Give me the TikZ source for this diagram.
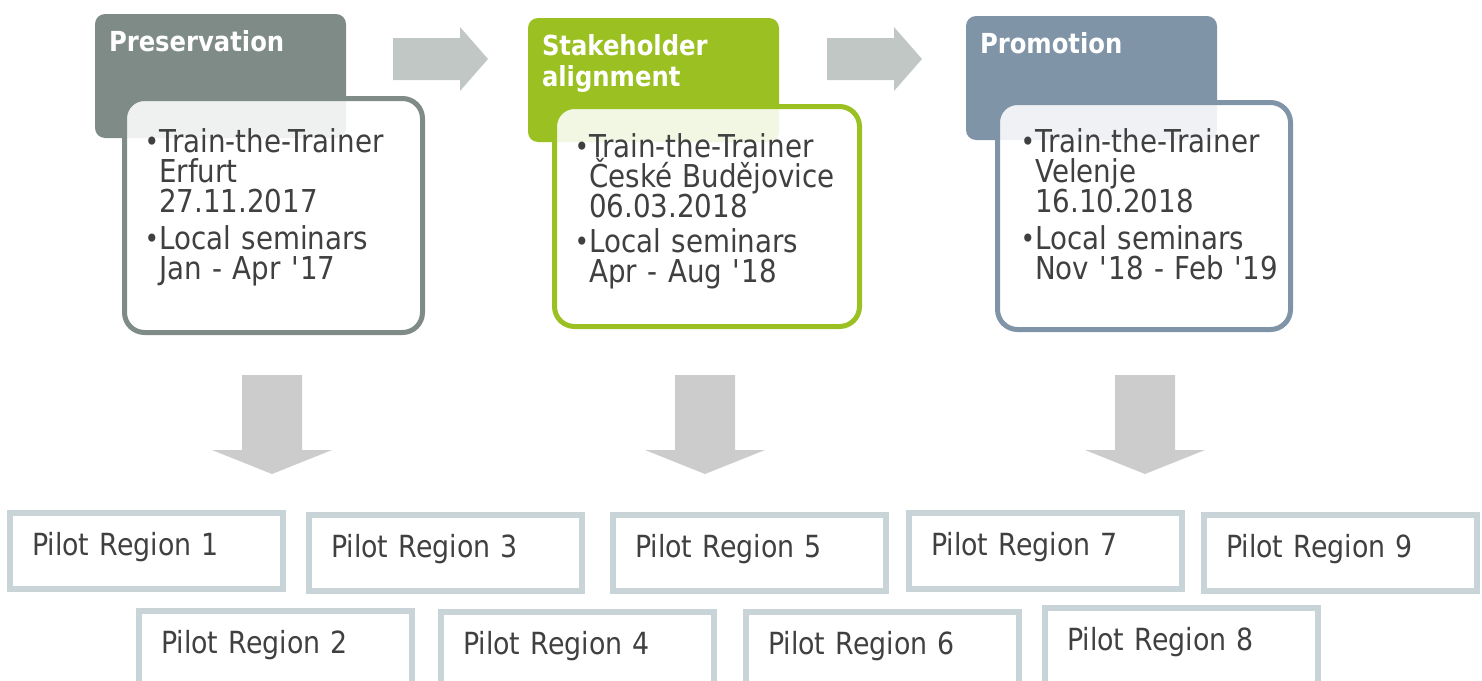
\documentclass[tikz,border=0pt]{standalone}
\usepackage{fontspec}
\setmainfont{DejaVu Sans}[FakeStretch=0.88]
\usepackage{xcolor}
\usepackage{tikz}
\definecolor{presgrey}{RGB}{127,139,135}
\definecolor{stakegreen}{RGB}{155,192,34}
\definecolor{promoblue}{RGB}{128,148,168}
\definecolor{arrowgrey}{RGB}{193,199,197}
\definecolor{downgrey}{RGB}{204,204,204}
\definecolor{pilotline}{RGB}{201,212,217}
\definecolor{textgrey}{RGB}{64,64,64}
\newcommand{\headfont}{\fontsize{27.6}{31}\selectfont\bfseries}
\newcommand{\listfont}{\fontsize{31.5}{30}\selectfont\lineskiplimit=-30pt}
\newcommand{\pilotfont}{\fontsize{30.5}{36}\selectfont}
\newcommand{\blt}{\leavevmode\llap{\fontsize{28}{28}\selectfont\raisebox{0.5pt}{•}}}
\tikzset{
	header/.style={
			fill=#1, rounded corners=10pt, anchor=north west, outer sep=0pt,
			inner xsep=14pt, inner ysep=0pt, text width=223pt, align=left,
			text height=37pt, text depth=87pt, text=white, font=\headfont
		},
	card/.style={
			draw=#1, line width=5pt, rounded corners=20pt, fill=white,
			fill opacity=0.88, anchor=north west, inner sep=0pt
		},
	list/.style={
			anchor=base west, inner sep=0pt, text width=280pt, align=left,
			text=textgrey, font=\listfont
		},
	pilot/.style={
			draw=pilotline, line width=6pt, anchor=north west,
			inner xsep=22pt, inner ysep=0pt, text width=229pt, align=left,
			text height=42pt, text depth=34pt, text=textgrey, font=\pilotfont
		},
	rarrow/.style={fill=arrowgrey},
	darrow/.style={fill=downgrey}
}

\begin{document}
\begin{tikzpicture}[x=1pt,y=-1pt]
	\useasboundingbox (0,0) rectangle (1482,680);
	\clip (0,0) rectangle (1482,680);
	% phase headers
	\node[header=presgrey] (pres-head) at (95,14) {Preservation};
	\node[header=stakegreen] (stake-head) at (528,18) {Stakeholder\\alignment};
	\node[header=promoblue] (promo-head) at (966,16) {Promotion};
	% cards with the events
	\node[card=presgrey, minimum width=298pt, minimum height=234pt] (pres-card) at (122,96) {};
	\node[card=stakegreen, minimum width=305pt, minimum height=220pt] (stake-card) at (552,104) {};
	\node[card=promoblue, minimum width=293pt, minimum height=227pt] (promo-card) at (995,100) {};
	\node[list] (pres-list) at ([shift={(37,56)}]pres-card.north west)
		{\blt Train-the-Trainer\\Erfurt\\27.11.2017\\[7pt]\blt Local seminars\\Jan - Apr \textquotesingle17};
	\node[list] (stake-list) at ([shift={(37,53)}]stake-card.north west)
		{\blt Train-the-Trainer\\České Budějovice\\06.03.2018\\[5pt]\blt Local seminars\\Apr - Aug \textquotesingle18};
	\node[list] (promo-list) at ([shift={(40,52)}]promo-card.north west)
		{\blt Train-the-Trainer\\Velenje\\16.10.2018\\[7pt]\blt Local seminars\\Nov \textquotesingle18 - Feb \textquotesingle19};
	% arrows between the phases
	\fill[rarrow] (393,38) -- (460,38) -- (460,27) -- (488,59) -- (460,91) -- (460,80) -- (393,80) -- cycle;
	\fill[rarrow] (827,38) -- (894,38) -- (894,27) -- (922,59) -- (894,91) -- (894,80) -- (827,80) -- cycle;
	% arrows down to the regions
	\fill[darrow] (242,375) -- (302,375) -- (302,450) -- (332,450) -- (272,474) -- (212,450) -- (242,450) -- cycle;
	\fill[darrow] (675,375) -- (735,375) -- (735,450) -- (765,450) -- (705,474) -- (645,450) -- (675,450) -- cycle;
	\fill[darrow] (1115,375) -- (1175,375) -- (1175,450) -- (1205,450) -- (1145,474) -- (1085,450) -- (1115,450) -- cycle;
	% pilot regions
	\node[pilot] (pr1) at (7,510) {Pilot Region 1};
	\node[pilot] (pr3) at (306,512) {Pilot Region 3};
	\node[pilot] (pr5) at (610,512) {Pilot Region 5};
	\node[pilot] (pr7) at (906,510) {Pilot Region 7};
	\node[pilot] (pr9) at (1201,512) {Pilot Region 9};
	\node[pilot] (pr2) at (136,608) {Pilot Region 2};
	\node[pilot] (pr4) at (438,609) {Pilot Region 4};
	\node[pilot] (pr6) at (743,609) {Pilot Region 6};
	\node[pilot] (pr8) at (1042,605) {Pilot Region 8};
\end{tikzpicture}
\end{document}
